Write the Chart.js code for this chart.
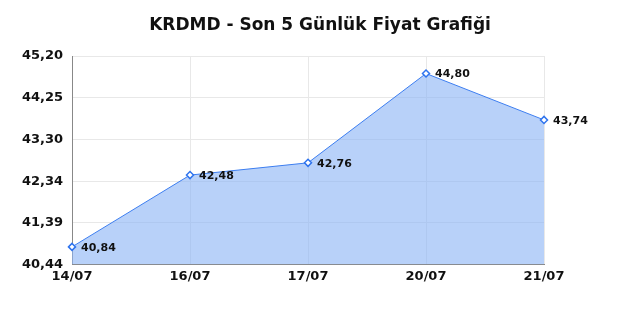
<!DOCTYPE html>
<html><head><meta charset="utf-8">
<script src="https://cdn.jsdelivr.net/npm/chart.js@4/dist/chart.umd.min.js"></script>
<style>html,body{margin:0;padding:0;background:#fff}#w{width:640px;height:320px}</style>
</head><body><div id="w"><canvas id="c"></canvas></div>
<script>
const categories = ["14/07","16/07","17/07","20/07","21/07"];
const prices = [40.84, 42.48, 42.76, 44.80, 43.74];
const yTicks = [40.44, 41.39, 42.34, 43.30, 44.25, 45.20];
const titleText = "KRDMD - Son 5 Günlük Fiyat Grafiği";

const fmt = v => v.toFixed(2).replace('.', ',');
const font = "'DejaVu Sans', sans-serif";

const labelPlugin = {
  id: 'vlabels',
  afterDatasetsDraw(chart) {
    const ctx = chart.ctx;
    const meta = chart.getDatasetMeta(0);
    ctx.save();
    ctx.font = "bold 11px " + font;
    ctx.fillStyle = "#111";
    ctx.textAlign = "left";
    ctx.textBaseline = "middle";
    meta.data.forEach((pt, i) => {
      ctx.fillText(fmt(prices[i]), pt.x + 9, pt.y + 1);
    });
    ctx.restore();
  }
};

const titlePlugin = {
  id: 'ctitle',
  afterDraw(chart) {
    const ctx = chart.ctx;
    ctx.save();
    ctx.font = "bold 17px " + font;
    ctx.fillStyle = "#111";
    ctx.textAlign = "center";
    ctx.textBaseline = "middle";
    ctx.fillText(titleText, chart.width / 2, 26);
    ctx.restore();
  }
};

new Chart(document.getElementById('c'), {
  type: 'line',
  data: {
    labels: categories,
    datasets: [{
      data: prices,
      borderColor: '#3d7ef0',
      borderWidth: 1,
      backgroundColor: 'rgba(140,180,245,0.62)',
      fill: 'start',
      tension: 0,
      pointStyle: 'rectRot',
      pointRadius: 3.5,
      pointBorderWidth: 1.5,
      pointBackgroundColor: '#fff',
      pointBorderColor: '#2f74ee'
    }]
  },
  options: {
    responsive: true,
    maintainAspectRatio: false,
    animation: false,
    layout: { padding: { left: 0, right: 96, top: 56, bottom: 32 } },
    plugins: {
      legend: { display: false },
      tooltip: { enabled: false },
      title: { display: false }
    },
    scales: {
      x: {
        offset: false,
        grid: { color: '#e8e8e8', drawTicks: false },
        border: { color: '#888', width: 1 },
        ticks: { color: '#111', font: { family: font, size: 13, weight: 'bold' }, padding: 4, maxRotation: 0 }
      },
      y: {
        min: yTicks[0], max: yTicks[yTicks.length - 1],
        afterBuildTicks: s => { s.ticks = yTicks.map(v => ({ value: v })); },
        afterFit: s => { s.width = 72; },
        grid: { color: '#e8e8e8', drawTicks: false },
        border: { color: '#888', width: 1 },
        ticks: { color: '#111', font: { family: font, size: 13, weight: 'bold' }, padding: 9,
          callback: v => fmt(v) }
      }
    }
  },
  plugins: [labelPlugin, titlePlugin]
});
</script></body></html>
